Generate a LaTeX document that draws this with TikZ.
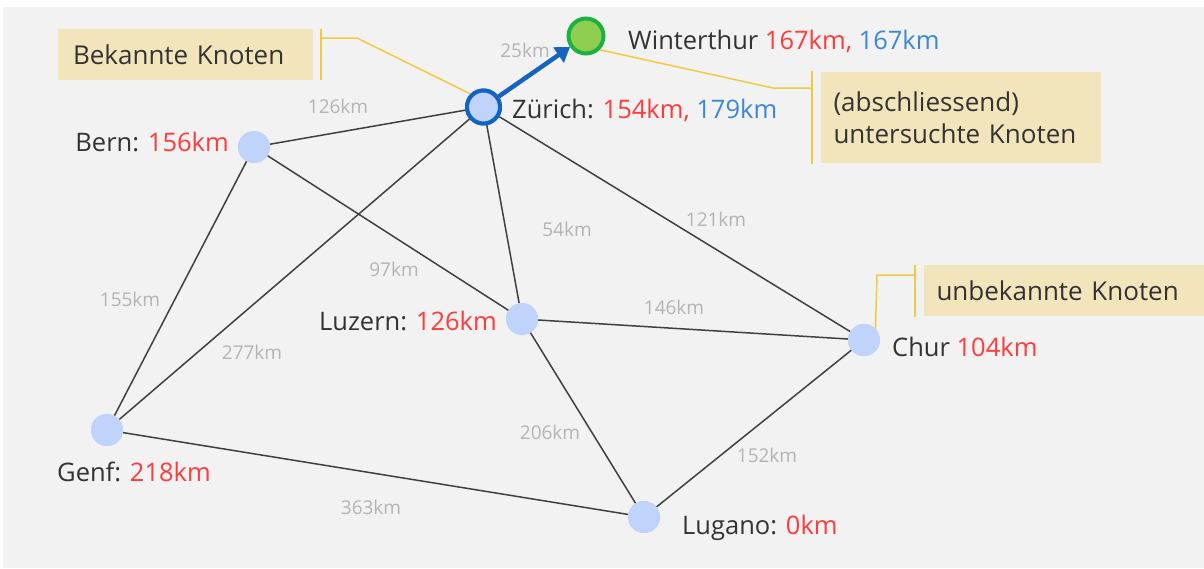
\documentclass[tikz,border=0pt]{standalone}
\usepackage{fontspec}
\setmainfont{Open Sans}
\usetikzlibrary{arrows.meta}
\definecolor{panel}{HTML}{F2F2F2}
\definecolor{nodefill}{HTML}{BFD3FB}
\definecolor{zurichborder}{HTML}{0F64C4}
\definecolor{wfill}{HTML}{8FCE4E}
\definecolor{wborder}{HTML}{1DB142}
\definecolor{edgecol}{HTML}{404040}
\definecolor{kmgray}{HTML}{B4B4B4}
\definecolor{kmred}{HTML}{FF3B3B}
\definecolor{kmblue}{HTML}{3D88D2}
\definecolor{txt}{HTML}{333333}
\definecolor{callfill}{HTML}{F3E5BB}
\definecolor{callline}{HTML}{F5C842}
\definecolor{arrowblue}{HTML}{1565C0}
\tikzset{
  city/.style={circle, fill=nodefill, minimum size=32pt, inner sep=0pt},
  edge/.style={draw=edgecol, line width=1.5pt},
  km/.style={text=kmgray, font=\fontsize{19}{21}\selectfont, inner sep=0pt},
  lbl/.style={text=txt, font=\fontsize{25.5}{28}\selectfont, inner sep=0pt},
  callbox/.style={fill=callfill, text=txt, font=\fontsize{26}{32}\selectfont, align=left, inner sep=0pt},
  callout/.style={draw=callline, line width=1.5pt},
  zstyle/.style={circle, fill=nodefill, draw=zurichborder, line width=4pt, minimum size=33pt, inner sep=0pt},
}
\begin{document}
\begin{tikzpicture}[x=1pt,y=-1pt]
\useasboundingbox (0,0) rectangle (1204,568);
\fill[white] (0,0) rectangle (1204,568);
\fill[panel] (3,7) rectangle (1204,568);

% callout boxes
\node[callbox, minimum width=255pt, minimum height=51pt, text width=225pt] (cb1) at (185.5,54.5) {Bekannte Knoten};
\node[callbox, minimum width=280pt, minimum height=91pt, text width=255pt] (cb2) at (961,117.5) {(abschliessend)\\untersuchte Knoten};
\node[callbox, minimum width=280pt, minimum height=51pt, text width=255pt] (cb3) at (1064,290.5) {unbekannte Knoten};

% cities
\node[city] (bern) at (254,147) {};
\node[city] (luzern) at (522,319) {};
\node[city] (chur) at (864,340) {};
\node[city] (genf) at (107,430) {};
\node[city] (lugano) at (644,517) {};
\node[zstyle] (zurich) at (483.5,107) {};
\node[circle, fill=wfill, draw=wborder, line width=4pt, minimum size=35pt, inner sep=0pt] (winti) at (586,36) {};

% callout connectors
\coordinate (c1a) at (321,29);
\coordinate (c1b) at (321,80);
\coordinate (c1k) at (357,38);
\draw[callout] (c1a) -- (c1b);
\draw[callout] (321,38) -- (c1k) -- (zurich.north west);
\coordinate (c2a) at (812,71);
\coordinate (c2b) at (812,164);
\coordinate (c2k) at (773,88);
\draw[callout] (c2a) -- (c2b);
\draw[callout] (812,88) -- (c2k) -- (winti.south east);
\coordinate (c3a) at (915,265);
\coordinate (c3b) at (915,317);
\coordinate (c3k) at (877,275);
\draw[callout] (c3a) -- (c3b);
\draw[callout] (915,275) -- (c3k) -- (chur.north east);

% edges
\draw[edge] (bern) -- (zurich);
\draw[edge] (bern) -- (genf);
\draw[edge] (bern) -- (luzern);
\draw[edge] (zurich) -- (genf);
\draw[edge] (zurich) -- (luzern);
\draw[edge] (zurich) -- (chur);
\draw[edge] (luzern) -- (chur);
\draw[edge] (luzern) -- (lugano);
\draw[edge] (genf) -- (lugano);
\draw[edge] (chur) -- (lugano);
\draw[draw=arrowblue, line width=4.5pt, -{Triangle[length=14pt,width=18pt]}] (zurich) -- (winti);

% redraw nodes on top of edges
\node[city] at (bern) {};
\node[city] at (luzern) {};
\node[city] at (chur) {};
\node[city] at (genf) {};
\node[city] at (lugano) {};
\node[zstyle] at (zurich) {};

% edge labels
\node[km] (k126) at (338,106) {126km};
\node[km] (k25) at (525,50) {25km};
\node[km] (k54) at (567,229) {54km};
\node[km] (k121) at (716,219) {121km};
\node[km] (k97) at (394,269) {97km};
\node[km] (k146) at (674,307) {146km};
\node[km] (k155) at (130,299) {155km};
\node[km] (k277) at (252,352) {277km};
\node[km] (k206) at (550,432) {206km};
\node[km] (k152) at (767,455) {152km};
\node[km] (k363) at (371,507) {363km};

% city labels
\node[lbl, anchor=west] (lw) at (628,41) {Winterthur \textcolor{kmred}{167km,} \textcolor{kmblue}{167km}};
\node[lbl, anchor=west] (lz) at (512,110) {Zürich: \textcolor{kmred}{154km,} \textcolor{kmblue}{179km}};
\node[lbl, anchor=east] (lb) at (229,142) {Bern: \textcolor{kmred}{156km}};
\node[lbl, anchor=east] (ll) at (497,321) {Luzern: \textcolor{kmred}{126km}};
\node[lbl, anchor=west] (lc) at (892,347) {Chur \textcolor{kmred}{104km}};
\node[lbl, anchor=west] (lg) at (57,472) {Genf: \textcolor{kmred}{218km}};
\node[lbl, anchor=west] (lu) at (682,528) {Lugano: \textcolor{kmred}{0km}};
\end{tikzpicture}
\end{document}
